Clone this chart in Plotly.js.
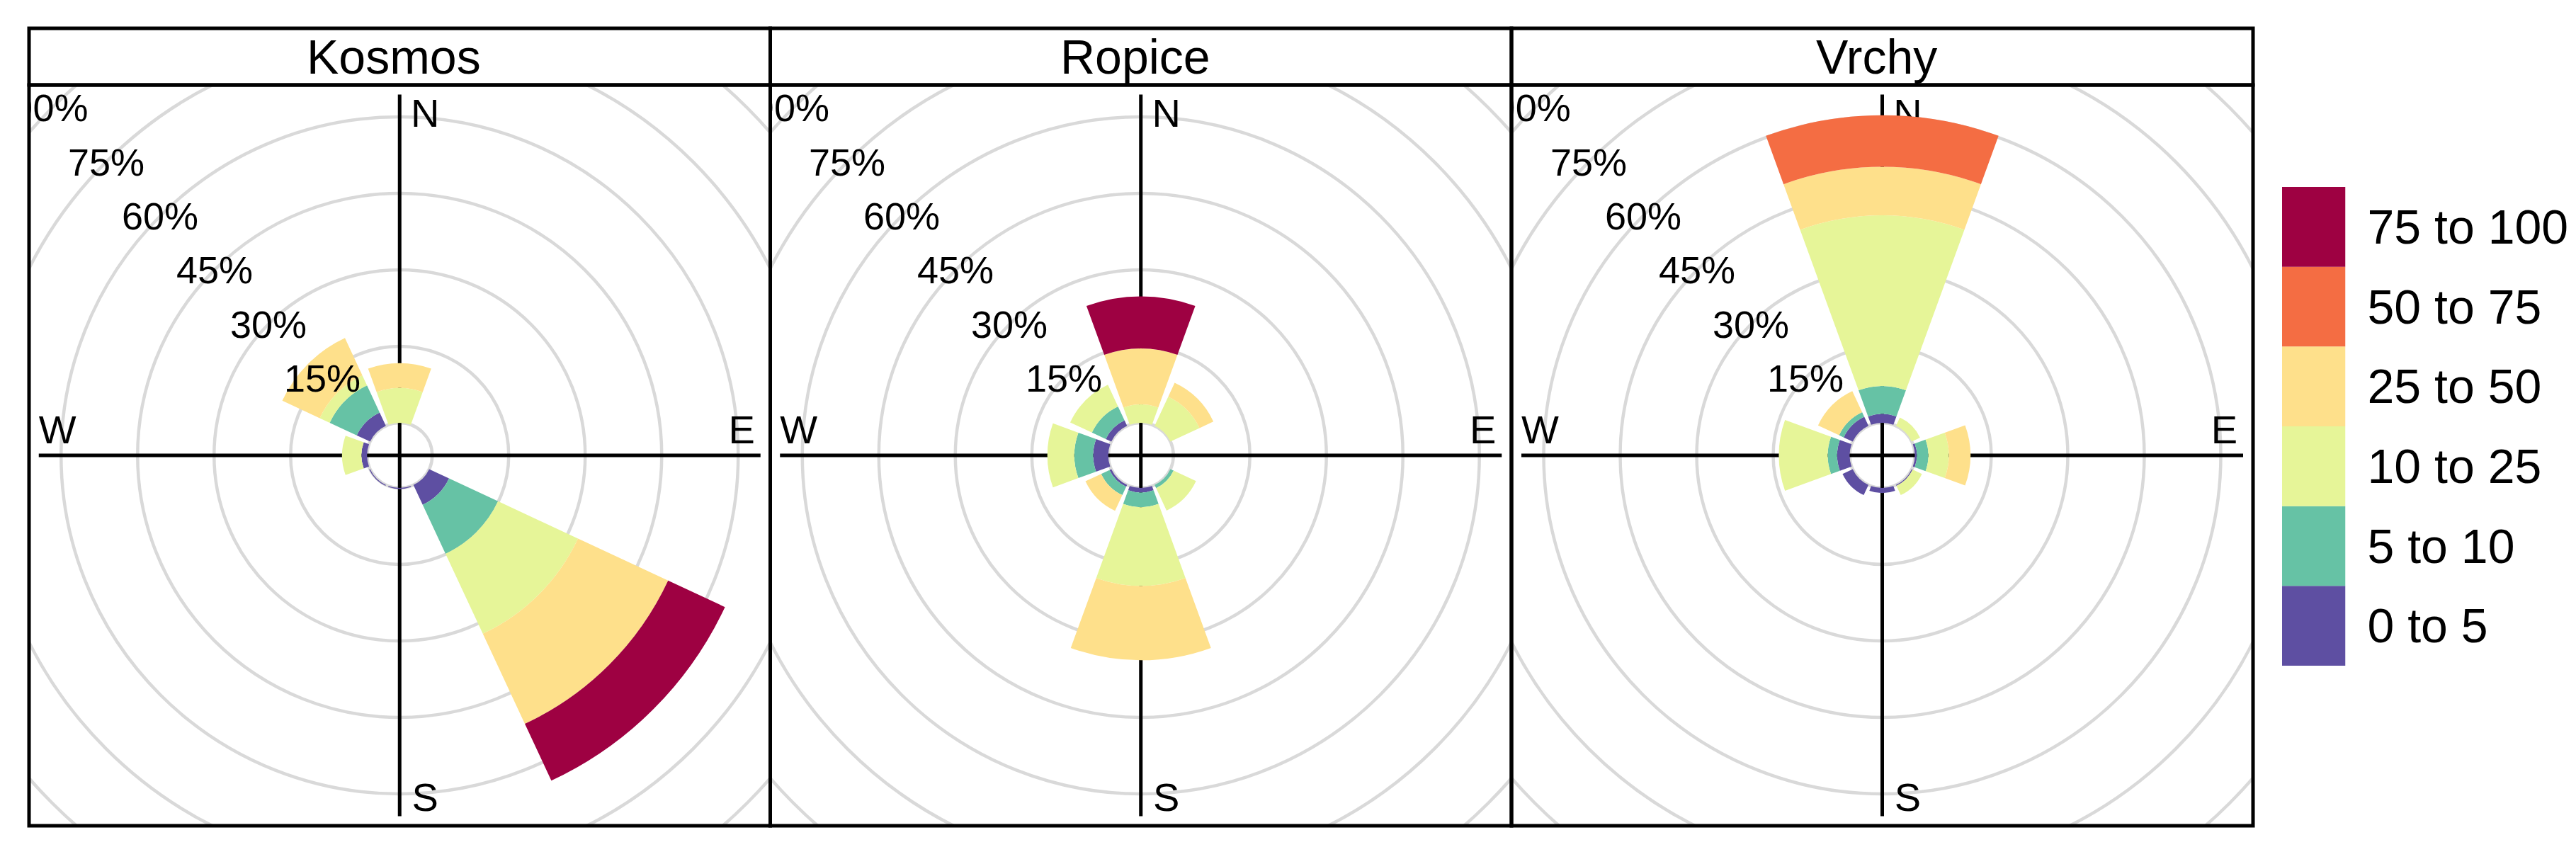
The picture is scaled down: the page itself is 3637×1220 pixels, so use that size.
<!DOCTYPE html>
<html><head><meta charset="utf-8">
<script src="https://cdn.plot.ly/plotly-3.0.1.min.js"></script>
<style>html,body{margin:0;padding:0;background:#fff}</style></head>
<body><div id="chart" style="width:3637px;height:1220px"></div>
<script>
// ---- data (percent of the time, per direction) ----
const directions = ["N","NE","E","SE","S","SW","W","NW"];
const bearings = [0,45,90,135,180,225,270,315];
const bands = ["0 to 5","5 to 10","10 to 25","25 to 50","50 to 75","75 to 100"];
const bandColors = ["#5E4FA2","#66C2A5","#E6F598","#FEE08B","#F46D43","#9E0142"];
const panelNames = ["Kosmos","Ropice","Vrchy"];

const kosmos0 = [0,0,0,4.3,0.2,0.2,1.1,2.9];
const kosmos1 = [0,0,0,10.6,0,0,0,5.85];
const kosmos2 = [6.8,0,0,17.3,0,0,3.8,2.15];
const kosmos3 = [4.9,0,0,19.5,0,0,0,8.1];
const kosmos4 = [0,0,0,0,0,0,0,0];
const kosmos5 = [0,0,0,12.3,0,0,0,0];

const ropice0 = [0,0,0,0,0.9,0.4,2.95,1.2];
const ropice1 = [0,0,0,0.7,2.85,1.8,3.7,3.0];
const ropice2 = [3.6,6.3,0,4.85,15.45,0,5.3,4.7];
const ropice3 = [11,3.0,0,0,14.6,3.4,0,0];
const ropice4 = [0,0,0,0,0,0,0,0];
const ropice5 = [10.2,0,0,0,0,0,0,0];

const vrchy0 = [1.75,0,0.4,0.2,1.0,2.2,2.45,1.95];
const vrchy1 = [5.45,0,2.25,0,0,0,1.85,1.0];
const vrchy2 = [33.5,1.8,4.0,2.0,0,0,9.6,0];
const vrchy3 = [9.5,0,4.25,0,0,0,0,4.55];
const vrchy4 = [10.1,0,0,0,0,0,0,0];
const vrchy5 = [0,0,0,0,0,0,0,0];

const panelBands = [
  [kosmos0,kosmos1,kosmos2,kosmos3,kosmos4,kosmos5],
  [ropice0,ropice1,ropice2,ropice3,ropice4,ropice5],
  [vrchy0,vrchy1,vrchy2,vrchy3,vrchy4,vrchy5]
];
const ringValues = [0,15,30,45,60,75,90];
const ringLabels = [15,30,45,60,75];
const clippedLabels = [90];
const compass = ["N","E","S","W"];

// ---- layout geometry, in pixels ----
const W = 3637, H = 1220;
const edges = [41,1087.5,2134,3181];
const stripTop = 40, stripBottom = 120, panelBottom = 1166;
const pxPerPct = 7.2, holePx = 46, axisHalf = 509.5;
const holePct = holePx/pxPerPct;
const textNudge = 5/pxPerPct;   // scatter text sits a little high compared with annotations
const clipNudge = -3/pxPerPct;  // outer label sits a touch further left, as in the source
const lblFont = "Liberation Sans, Arial, Helvetica, sans-serif";
const px = v => v/W, py = v => 1 - v/H;

const traces = [], shapes = [], annotations = [];
const layout = {
  width:W, height:H, margin:{l:0,r:0,t:0,b:0,pad:0}, autosize:false,
  paper_bgcolor:"#fff", plot_bgcolor:"#fff", showlegend:false,
  font:{family:lblFont,color:"#000"}
};

panelNames.forEach((name,i)=>{
  const n = i+1, sfx = i===0 ? "" : String(n);
  const xa = "x"+sfx, ya = "y"+sfx, pol = "polar"+sfx;
  const left = edges[i], right = edges[i+1];
  const cx = (left+right)/2, cy = (stripBottom+panelBottom)/2;
  const halfX = (right-left)/2/pxPerPct, halfY = (panelBottom-stripBottom)/2/pxPerPct;
  const hidden = {showgrid:false,zeroline:false,showticklabels:false,ticks:"",fixedrange:true,showline:false};
  layout["xaxis"+sfx] = Object.assign({domain:[px(left),px(right)],range:[-halfX,halfX],anchor:ya},hidden);
  layout["yaxis"+sfx] = Object.assign({domain:[py(panelBottom),py(stripBottom)],range:[-halfY,halfY],anchor:xa},hidden);
  layout[pol] = {
    domain:{x:[px(cx-axisHalf),px(cx+axisHalf)],y:[py(cy+axisHalf),py(cy-axisHalf)]},
    bgcolor:"rgba(0,0,0,0)", barmode:"stack",
    radialaxis:{range:[-holePct,(axisHalf-holePx)/pxPerPct],showgrid:false,showline:false,showticklabels:false,ticks:""},
    angularaxis:{type:"linear",thetaunit:"degrees",rotation:90,direction:"clockwise",tickmode:"array",
      tickvals:[0,90,180,270],showticklabels:false,ticks:"",showline:false,showgrid:true,gridcolor:"#000",gridwidth:5}
  };
  // grey rings, clipped by the panel rectangle
  ringValues.forEach(v=>{
    const r = v+holePct;
    shapes.push({type:"circle",xref:xa,yref:ya,x0:-r,x1:r,y0:-r,y1:r,layer:"below",
                 line:{color:"#d9d9d9",width:4.5},fillcolor:"rgba(0,0,0,0)"});
  });
  // compass letters sit under the bars
  const far = 483/pxPerPct, side = 36/pxPerPct;
  traces.push({type:"scatter",mode:"text",xaxis:xa,yaxis:ya,cliponaxis:true,hoverinfo:"skip",
    x:[side,far,side,-far], y:[far-textNudge,side-textNudge,-far-textNudge,side-textNudge], text:compass,
    textposition:"middle center",textfont:{family:lblFont,size:56,color:"#000"}});
  // outermost percentage label is cut by the panel edge
  traces.push({type:"scatter",mode:"text",xaxis:xa,yaxis:ya,cliponaxis:true,hoverinfo:"skip",
    x:clippedLabels.map(v=>-(v+holePct)*Math.SQRT1_2+clipNudge), y:clippedLabels.map(v=>(v+holePct)*Math.SQRT1_2-textNudge),
    text:clippedLabels.map(v=>v+"%"),textposition:"middle center",textfont:{family:lblFont,size:54,color:"#000"}});
  // stacked wind-rose bars
  panelBands[i].forEach((vals,b)=>{
    traces.push({type:"barpolar",subplot:pol,name:bands[b],r:vals,theta:bearings,width:40,
      customdata:directions,marker:{color:bandColors[b],line:{width:0}},hoverinfo:"r+theta+name"});
  });
  // percentage labels along the NW diagonal, above the bars
  ringLabels.forEach(v=>{
    const d=(v+holePct)*Math.SQRT1_2;
    annotations.push({xref:xa,yref:ya,x:-d,y:d,text:v+"%",showarrow:false,xanchor:"center",yanchor:"middle",
      font:{family:lblFont,size:54,color:"#000"}});
  });
  // panel frame and strip with the panel name
  shapes.push({type:"rect",xref:"paper",yref:"paper",x0:px(left),x1:px(right),y0:py(panelBottom),y1:py(stripBottom),
    line:{color:"#000",width:5},fillcolor:"rgba(0,0,0,0)",layer:"above"});
  shapes.push({type:"rect",xref:"paper",yref:"paper",x0:px(left),x1:px(right),y0:py(stripBottom),y1:py(stripTop),
    line:{color:"#000",width:5},fillcolor:"rgba(0,0,0,0)",layer:"above"});
  annotations.push({xref:"paper",yref:"paper",x:px(cx-8),y:py((stripTop+stripBottom)/2),text:name,showarrow:false,
    xanchor:"center",yanchor:"middle",font:{family:lblFont,size:68,color:"#000"}});
});

// colour key, drawn as a bar chart on its own axes
traces.push({type:"bar",x:bands.map(()=>1),y:bands,orientation:"h",width:1,xaxis:"x4",yaxis:"y4",
  marker:{color:bandColors,line:{width:0}},hoverinfo:"y"});
layout.xaxis4 = {domain:[px(3222),px(3311.5)],range:[0,1],anchor:"y4",showgrid:false,zeroline:false,showticklabels:false,ticks:"",showline:false,fixedrange:true};
layout.yaxis4 = {domain:[py(940),py(264)],range:[-0.5,5.5],anchor:"x4",side:"right",type:"category",categoryorder:"array",categoryarray:bands,
  showgrid:false,zeroline:false,ticks:"",showline:false,fixedrange:true,ticklabelstandoff:30,tickfont:{family:lblFont,size:68,color:"#000"}};
layout.shapes = shapes;
layout.annotations = annotations;
Plotly.newPlot("chart",traces,layout,{displayModeBar:false,staticPlot:true});
</script></body></html>
